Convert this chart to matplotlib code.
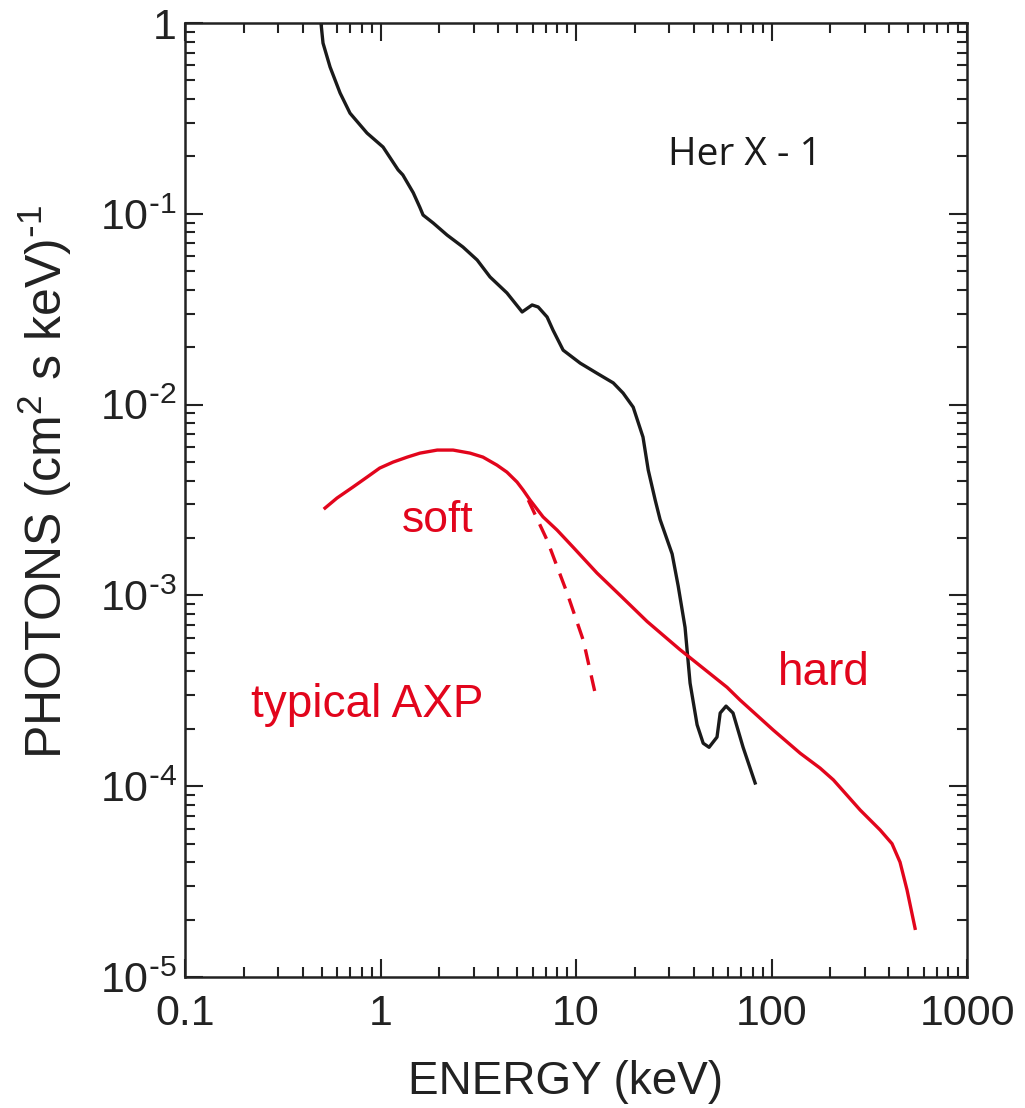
import numpy as np
import matplotlib
matplotlib.use("Agg")
import matplotlib.pyplot as plt
from matplotlib.ticker import FixedLocator, FixedFormatter

plt.rcParams['font.family'] = ['Liberation Sans', 'DejaVu Sans']
plt.rcParams['mathtext.default'] = 'regular'

RED = '#e2051c'
INK = '#222222'

# Her X-1 spectrum (black)
her_e = [0.497, 0.508, 0.552, 0.621, 0.698, 0.853, 1.03, 1.23, 1.30, 1.47,
         1.59, 1.65, 1.86, 2.19, 2.64, 3.12, 3.63, 4.43, 5.30, 5.96, 6.40,
         7.11, 7.62, 8.59, 10.5, 12.8, 15.5, 17.4, 19.6, 22.0, 23.4, 25.4,
         26.9, 31.0, 33.3, 36.1, 38.3, 41.6, 44.7, 47.9, 52.6, 54.6, 58.5,
         63.5, 71.5, 82.4]
her_f = [0.976, 0.785, 0.588, 0.43, 0.337, 0.265, 0.224, 0.17, 0.16, 0.129,
         0.108, 0.0986, 0.0895, 0.0774, 0.067, 0.0573, 0.0467, 0.0385,
         0.0306, 0.0333, 0.0325, 0.0288, 0.0246, 0.0193, 0.0165, 0.0146,
         0.013, 0.0115, 0.0097, 0.00676, 0.00454, 0.00316, 0.0025, 0.00165,
         0.00112, 6.8e-4, 3.47e-4, 2.1e-4, 1.68e-4, 1.6e-4, 1.81e-4, 2.42e-4,
         2.63e-4, 2.42e-4, 1.6e-4, 1.04e-4]

# typical AXP (red solid: soft + hard)
axp_e = [0.52, 0.599, 0.723, 0.853, 0.99, 1.16, 1.37, 1.59, 1.95, 2.35, 2.87,
         3.34, 3.94, 4.43, 4.99, 5.36, 5.82, 6.78, 8.0, 9.66, 12.8, 17.0,
         23.1, 34.0, 59.2, 69.0, 102.0, 140.0, 177.0, 207.0, 284.0, 359.0,
         413.0, 454.0, 493.0, 542.0]
axp_f = [2.87e-3, 3.24e-3, 3.7e-3, 4.17e-3, 4.65e-3, 5.0e-3, 5.31e-3,
         5.57e-3, 5.78e-3, 5.78e-3, 5.57e-3, 5.31e-3, 4.82e-3, 4.43e-3,
         3.93e-3, 3.57e-3, 3.16e-3, 2.58e-3, 2.2e-3, 1.79e-3, 1.31e-3,
         9.9e-4, 7.3e-4, 5.2e-4, 3.3e-4, 2.83e-4, 1.97e-4, 1.49e-4, 1.245e-4,
         1.08e-4, 7.5e-5, 5.9e-5, 5.0e-5, 4.0e-5, 2.86e-5, 1.8e-5]

# soft component alone (red dashed)
soft_e = [5.7, 7.11, 9.0, 10.9, 12.5]
soft_f = [3.16e-3, 1.95e-3, 1.03e-3, 5.8e-4, 3.1e-4]

x_ticks = [0.1, 1, 10, 100, 1000]
x_labels = ['0.1', '1', '10', '100', '1000']
y_ticks = [1e-5, 1e-4, 1e-3, 1e-2, 1e-1, 1]
y_labels = [r'$10^{\text{-}5}$', r'$10^{\text{-}4}$', r'$10^{\text{-}3}$',
            r'$10^{\text{-}2}$', r'$10^{\text{-}1}$', '1']

fig = plt.figure(figsize=(10.25, 11.08), dpi=100)
ax = fig.add_axes([0.1805, 0.1182, 0.763, 0.861])

ax.plot(her_e, her_f, color='#1a1a1a', lw=2.4, solid_joinstyle='round')
ax.plot(axp_e, axp_f, color=RED, lw=2.4, solid_joinstyle='round')
ax.plot(soft_e, soft_f, color=RED, lw=2.4, ls=(0, (4.8, 3.2)))

ax.set_xscale('log')
ax.set_yscale('log')
ax.set_xlim(0.1, 1000)
ax.set_ylim(1e-5, 1)

ax.xaxis.set_major_locator(FixedLocator(x_ticks))
ax.xaxis.set_major_formatter(FixedFormatter(x_labels))
ax.yaxis.set_major_locator(FixedLocator(y_ticks))
ax.yaxis.set_major_formatter(FixedFormatter(y_labels))

ax.tick_params(which='both', direction='in', top=True, right=True,
               color=INK, labelsize=31, labelcolor=INK)
ax.tick_params(which='major', length=13, width=1.5)
ax.tick_params(which='minor', length=7, width=1.5)
ax.tick_params(axis='x', pad=12)
ax.tick_params(axis='y', pad=6)
for s in ax.spines.values():
    s.set_linewidth(1.8)
    s.set_color(INK)

ax.set_xlabel('ENERGY (keV)', fontsize=33, color=INK, va='center')
ax.xaxis.set_label_coords(0.486, -0.11)
ax.set_ylabel(r'PHOTONS (cm$^2$ s keV)$^{\text{-}1}$', fontsize=36, color=INK,
              va='center')
ax.yaxis.set_label_coords(-0.179, 0.519)

ax.text(73, 0.203, 'Her X - 1', fontsize=28, family='Open Sans',
        color='#1a1a1a', ha='center', va='center')
ax.text(1.95, 2.48e-3, 'soft', fontsize=32, color=RED, ha='center', va='center')
ax.text(0.853, 2.67e-4, 'typical AXP', fontsize=33, color=RED,
        ha='center', va='center')
ax.text(186, 3.92e-4, 'hard', fontsize=33, color=RED, ha='center', va='center')

fig.savefig('out.png', dpi=100)
